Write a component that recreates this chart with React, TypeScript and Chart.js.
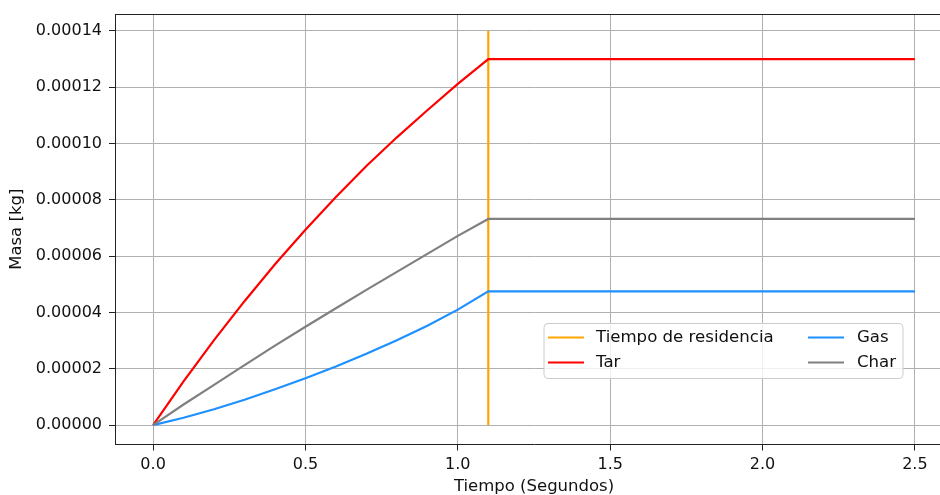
import React, { useEffect, useRef } from "react";
import { Chart, registerables } from "chart.js";

Chart.register(...registerables);

// ---- data ----
const timeSeconds = [0, 0.1, 0.2, 0.3, 0.4, 0.5, 0.6, 0.7, 0.8, 0.9, 1.0, 1.1, 2.5];
const tarMass = [0, 0.0000155, 0.0000302, 0.000044, 0.0000571, 0.0000694, 0.000081, 0.000092, 0.0001022, 0.0001118, 0.0001212, 0.00013, 0.00013];
const gasMass = [0, 0.0000026, 0.0000056, 0.000009, 0.0000127, 0.0000166, 0.0000208, 0.0000253, 0.0000301, 0.0000353, 0.000041, 0.0000475, 0.0000475];
const charMass = [0, 0.0000073, 0.0000143, 0.0000213, 0.0000282, 0.0000349, 0.0000415, 0.000048, 0.0000544, 0.0000608, 0.0000672, 0.0000732, 0.0000732];
const residenceTime = [1.1, 1.1];
const residenceMass = [0, 0.00014];

const xTicks = [0, 0.5, 1.0, 1.5, 2.0, 2.5];
const yTicks = [0, 0.00002, 0.00004, 0.00006, 0.00008, 0.0001, 0.00012, 0.00014];

const seriesLabels = ["Tiempo de residencia", "Tar", "Gas", "Char"];
const seriesColors = ["#ffa500", "#ff0000", "#1e90ff", "#808080"];

const FONT = "'DejaVu Sans', sans-serif";

const pts = (xs: number[], ys: number[]) => xs.map((x, i) => ({ x, y: ys[i] }));

const framePlugin = {
  id: "frameAndLegend",
  afterDraw(chart: any) {
    const { ctx, chartArea: ca } = chart;
    ctx.save();
    // top spine
    ctx.strokeStyle = "#222";
    ctx.lineWidth = 1;
    ctx.beginPath();
    ctx.moveTo(ca.left, ca.top + 0.5);
    ctx.lineTo(ca.right, ca.top + 0.5);
    ctx.stroke();

    // legend
    const right = ca.right - 50;
    const bottom = ca.bottom - 66;
    const w = 359;
    const h = 55;
    const left = right - w;
    const top = bottom - h;
    const r = 4;
    ctx.beginPath();
    ctx.moveTo(left + r, top);
    ctx.lineTo(right - r, top);
    ctx.arcTo(right, top, right, top + r, r);
    ctx.lineTo(right, bottom - r);
    ctx.arcTo(right, bottom, right - r, bottom, r);
    ctx.lineTo(left + r, bottom);
    ctx.arcTo(left, bottom, left, bottom - r, r);
    ctx.lineTo(left, top + r);
    ctx.arcTo(left, top, left + r, top, r);
    ctx.closePath();
    ctx.fillStyle = "rgba(255,255,255,0.8)";
    ctx.fill();
    ctx.strokeStyle = "#cccccc";
    ctx.lineWidth = 1;
    ctx.stroke();

    const ds = chart.data.datasets;
    ctx.font = `16.6px ${FONT}`;
    ctx.textBaseline = "middle";
    ctx.textAlign = "left";
    ds.forEach((d: any, i: number) => {
      const col = Math.floor(i / 2);
      const row = i % 2;
      const hx = left + (col === 0 ? 4 : 264);
      const cy = top + (row === 0 ? 14 : 39);
      ctx.strokeStyle = d.borderColor;
      ctx.lineWidth = 2.2;
      ctx.beginPath();
      ctx.moveTo(hx, cy);
      ctx.lineTo(hx + 36, cy);
      ctx.stroke();
      ctx.fillStyle = "#111";
      ctx.fillText(d.label, hx + (col === 0 ? 48 : 49), cy);
    });
    ctx.restore();
  },
};

export default function App() {
  const ref = useRef<HTMLCanvasElement | null>(null);
  useEffect(() => {
    if (!ref.current) return;
    const chart = new Chart(ref.current, {
      type: "line",
      data: {
        datasets: [
          { label: seriesLabels[0], data: pts(residenceTime, residenceMass), borderColor: seriesColors[0], order: 4 },
          { label: seriesLabels[1], data: pts(timeSeconds, tarMass), borderColor: seriesColors[1], order: 3 },
          { label: seriesLabels[2], data: pts(timeSeconds, gasMass), borderColor: seriesColors[2], order: 2 },
          { label: seriesLabels[3], data: pts(timeSeconds, charMass), borderColor: seriesColors[3], order: 1 },
        ].map((d) => ({ ...d, borderWidth: 2.2, pointRadius: 0, tension: 0, fill: false })),
      },
      plugins: [framePlugin],
      options: {
        animation: false,
        responsive: false,
        devicePixelRatio: 1,
        layout: { padding: { top: 14, right: 7, left: 0, bottom: 0 } },
        plugins: { legend: { display: false }, tooltip: { enabled: false } },
        scales: {
          x: {
            type: "linear",
            min: -0.125,
            max: 2.625,
            afterFit: (s: any) => { s.height = 50.5; s.paddingLeft = 0; s.paddingRight = 0; },
            afterBuildTicks: (s: any) => { s.ticks = xTicks.map((v) => ({ value: v })); },
            ticks: {
              font: { family: FONT, size: 16 },
              color: "#111",
              padding: 5,
              maxRotation: 0,
              callback: (v: any) => Number(v).toFixed(1),
            },
            grid: { color: "#b0b0b0", lineWidth: 1, tickLength: 6, tickColor: "#222", tickWidth: 1 },
            border: { display: true, color: "#222", width: 1 },
            title: {
              display: true,
              text: "Tiempo (Segundos)",
              font: { family: FONT, size: 16.5, lineHeight: 1 },
              color: "#111",
              padding: { top: 0, bottom: 0 },
            },
          },
          y: {
            type: "linear",
            min: -0.0000069,
            max: 0.000146,
            afterFit: (s: any) => { s.width = 115; s.paddingTop = 0; s.paddingBottom = 0; },
            afterBuildTicks: (s: any) => { s.ticks = yTicks.map((v) => ({ value: v })); },
            ticks: {
              font: { family: FONT, size: 16 },
              color: "#111",
              padding: 7,
              callback: (v: any) => Number(v).toFixed(5),
            },
            grid: { color: "#b0b0b0", lineWidth: 1, tickLength: 6, tickColor: "#222", tickWidth: 1 },
            border: { display: true, color: "#222", width: 1 },
            title: {
              display: true,
              text: "Masa [kg]",
              font: { family: FONT, size: 16.5, lineHeight: 1 },
              color: "#111",
              padding: { top: 8.5, bottom: 0 },
            },
          },
        },
      },
    } as any);
    return () => chart.destroy();
  }, []);
  return (
    <div style={{ position: "fixed", left: 0, top: 0, width: 940, height: 495, overflow: "hidden", background: "#fff" }}>
      <canvas ref={ref} width={960} height={495} style={{ display: "block" }} />
    </div>
  );
}
